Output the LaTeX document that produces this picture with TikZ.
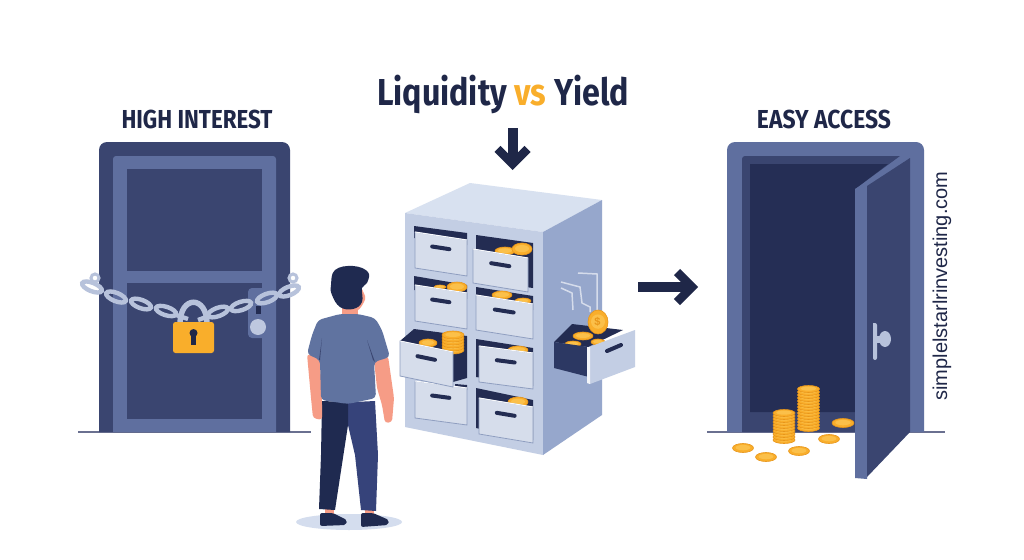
\documentclass[tikz,border=0pt]{standalone}
\usepackage{fontspec}
\setmainfont{Liberation Sans}
\newfontfamily\headfont{Fira Sans}
\usetikzlibrary{calc, arrows.meta}
\definecolor{navy}{HTML}{1F2748}
\definecolor{doordark}{HTML}{3A4570}
\definecolor{doorlight}{HTML}{5F6F9F}
\definecolor{doorhole}{HTML}{252E55}
\definecolor{steel}{HTML}{B7C2DB}
\definecolor{amber}{HTML}{F9AE2B}
\definecolor{amberdark}{HTML}{E8961A}
\definecolor{amberlight}{HTML}{FBC04A}
\definecolor{cabtop}{HTML}{D8E1F0}
\definecolor{cabfront}{HTML}{C3CEE4}
\definecolor{cabside}{HTML}{96A7CC}
\definecolor{cabface}{HTML}{D6DDEB}
\definecolor{cabedge}{HTML}{8F9EC0}
\definecolor{slotdark}{HTML}{232C52}
\definecolor{drawerin}{HTML}{2C3863}
\definecolor{skin}{HTML}{F69C86}
\definecolor{shirt}{HTML}{6073A0}
\definecolor{legdark}{HTML}{1F2A50}
\definecolor{legblue}{HTML}{36437A}
\definecolor{groundline}{HTML}{6A7090}
\tikzset{
    heading/.style={font=\headfont\bfseries\fontsize{26}{26}\selectfont, text=navy, transform shape},
    bigarrow/.style={draw=navy, line width=10pt, -{Straight Barb[length=15pt, width=30pt, line width=8.5pt]}},
    linkline/.style={draw=steel, line width=4.4pt},
}
% dark slot of a drawer, then its front with the handle
\newcommand\drawerslot[5]{\fill[slotdark] (#1,#2) -- (#3,#4) -- (#3,#4+#5) -- (#1,#2+#5) -- cycle;}
\newcommand\drawerfront[5]{
    \filldraw[fill=cabface, draw=cabedge, line width=0.8pt] (#1,#2) -- (#3,#4) -- (#3,#4+#5) -- (#1,#2+#5) -- cycle;
    \draw[white!85!cabface, line width=1pt] (#1,#2) -- (#3,#4);
    \draw[slotdark, line width=4pt, line cap=round] ($(#1,#2+#5*0.33)!0.33!(#3,#4+#5*0.33)$) -- ($(#1,#2+#5*0.33)!0.66!(#3,#4+#5*0.33)$);
}
\newcommand\coin[4]{
    \filldraw[fill=amber, draw=amberdark, line width=0.6pt] (#1,#2) ellipse [x radius=#3, y radius=#4];
    \fill[amberlight] (#1,#2-0.4) ellipse [x radius=0.7*#3, y radius=0.6*#4];
}
\newcommand\chainlink[3]{
    \draw[linkline, rotate around={#3:(#1,#2)}] (#1,#2) ellipse [x radius=10.5, y radius=4.2];
}

\begin{document}
\begin{tikzpicture}[x=1pt, y=-1pt]
    \useasboundingbox (0,0) rectangle (1024,559);
    \fill[white] (0,0) rectangle (1024,559);

    \node (title) [font=\headfont\bfseries\fontsize{37.5}{37.5}\selectfont, text=navy, xscale=0.86, transform shape] at (503,94) {Liquidity \textcolor{amber}{vs} Yield};
    \node (high) [heading, xscale=0.86] at (197,119) {HIGH INTEREST};
    \node (easy) [heading, xscale=0.88] at (824,119) {EASY ACCESS};
    \node (site) [font=\fontsize{20}{20}\selectfont, text=navy, rotate=90] at (942,286) {simplelstarlrinvesting.com};

    \coordinate (downstart) at (512.5,128);
    \coordinate (downend) at (512.5,170);
    \coordinate (rightstart) at (638,287);
    \coordinate (rightend) at (698,287);
    \draw[bigarrow] (downstart) -- (downend);
    \draw[bigarrow] (rightstart) -- (rightend);

    % locked door
    \draw[groundline, line width=1.6pt] (78,432) -- (311,432);
    \fill[doordark] (99,432) [rounded corners=8pt] -- (99,142) -- (290,142) [sharp corners] -- (290,432) -- cycle;
    \fill[doorlight] (113,432) [rounded corners=3pt] -- (113,156) -- (276,156) [sharp corners] -- (276,432) -- cycle;
    \fill[doordark] (127,169) rectangle (262,271);
    \fill[doordark] (127,283) rectangle (262,419);
    \fill[doorlight] (248,292) [rounded corners=4pt] -- (248,288) -- (273,288) -- (273,338) -- (248,338) [sharp corners] -- cycle;
    \fill[slotdark] (256,306) rectangle (261,314);
    \fill[steel!90!white] (258,327) circle (8);

    % padlock and chain
    \draw[linkline, line width=5.5pt] (180,324) .. controls (180,295) and (207,295) .. (207,324);
    \fill[amber, rounded corners=2.5pt] (173,322) rectangle (214,353);
    \fill[navy] (193.5,333) circle (4);
    \fill[navy] (191,335) rectangle (196,345);
    \chainlink{92}{287}{-22}
    \chainlink{116}{297}{-22}
    \chainlink{141}{304}{-20}
    \chainlink{166}{311}{-18}
    \chainlink{218}{312}{20}
    \chainlink{241}{306}{18}
    \chainlink{267}{298}{20}
    \chainlink{289}{291}{22}
    \draw[linkline, line width=3pt] (95,278) circle (4);
    \draw[linkline, line width=3pt] (293,278) circle (4);
    \draw[linkline] (176,315) -- (188,319);
    \draw[linkline] (198,320) -- (209,316);

    % cabinet
    \fill[cabtop] (405,213) -- (470,183) -- (602,200) -- (543,232) -- cycle;
    \fill[cabfront] (405,213) -- (543,232) -- (543,455) -- (405,427) -- cycle;
    \fill[cabside] (543,232) -- (602,200) -- (602,415) -- (543,455) -- cycle;

    \drawerslot{414}{226}{467}{233}{12}
    \drawerfront{415}{232}{467}{240}{36}

    \drawerslot{414}{276}{467}{285}{14}
    \coin{440}{287}{6}{2}
    \coin{457}{287}{10}{5}
    \drawerfront{415}{285}{467}{293}{36}

    \drawerslot{455}{384}{467}{385}{5}
    \drawerfront{415}{381}{467}{388}{37}

    \drawerslot{476}{235}{533}{243}{45}
    \coin{505}{251}{10}{4}
    \coin{522}{249}{10}{6}
    \drawerfront{473}{249}{528}{258}{34}

    \drawerslot{476}{287}{533}{296}{14}
    \coin{502}{295}{10}{4}
    \coin{523}{301}{8}{3}
    \drawerfront{476}{295}{533}{304}{35}

    \drawerslot{476}{339}{533}{348}{38}
    \coin{518}{350}{10}{4}
    \drawerfront{479}{346}{533}{353}{36}

    \drawerslot{476}{388}{533}{400}{40}
    \coin{518}{402}{10}{5}
    \drawerfront{479}{398}{533}{407}{36}

    % pulled out drawers
    \fill[slotdark] (414,329) -- (467,336) -- (467,378) -- (453,382) -- (400,341) -- cycle;
    \coin{428}{343}{9}{4}
    \foreach \yc in {350,347,344,341,338,335} {\coin{453}{\yc}{11}{4}}
    \drawerfront{400}{341}{453}{352}{35}

    \fill[slotdark] (554,342) -- (572,324) -- (623,330) -- (588,347) -- cycle;
    \coin{583}{336}{10}{4}
    \coin{573}{344}{8}{3}
    \coin{598}{342}{7}{3}
    \fill[drawerin] (554,342) -- (589,347) -- (589,377) -- (554,368) -- cycle;
    \fill[cabfront] (589,347) -- (635,330) -- (635,367) -- (590,384) -- cycle;
    \fill[white!70!cabface] (587,347) -- (590,347) -- (590,384) -- (587,383) -- cycle;
    \draw[slotdark, line width=4pt, line cap=round] (607,351) -- (621,345);

    \draw[white!60!cabside, line width=1.5pt] (578,273) -- (597,274) -- (597,310);
    \draw[white!60!cabside, line width=1.5pt] (561,282) -- (580,287) -- (582,303) -- (590,307) -- (590,312);
    \draw[white!60!cabside, line width=1.5pt] (561,288) -- (572,293) -- (573,310);
    \coin{598}{322}{10}{12}
    \node (dollar) [font=\bfseries\fontsize{11}{11}\selectfont, text=amberdark, inner sep=0pt] at (597.5,322) {\$};

    % person
    \fill[cabtop!80!cabfront] (349,522) ellipse [x radius=53, y radius=8];
    \fill[skin] (325,505) rectangle (334,515);
    \fill[skin] (365,505) rectangle (374,515);
    \fill[legdark, rounded corners=2pt] (320,513) -- (333,513) -- (347,520) -- (346,525) -- (320,526) -- cycle;
    \fill[legdark, rounded corners=2pt] (361,513) -- (373,513) -- (389,520) -- (388,525) -- (361,527) -- cycle;
    \fill[legblue] (333,403) -- (375,401) -- (378,455) -- (376,511) -- (361,510) -- (355,455) -- (348,425) -- cycle;
    \fill[legdark] (322,401) -- (348,402) -- (348,425) -- (335,510) -- (319,509) -- (321,455) -- cycle;
    \fill[skin, rounded corners=3pt] (307,354) -- (320,358) -- (322,402) -- (322,420) -- (313,418) -- (311,398) -- cycle;
    \fill[skin, rounded corners=3pt] (374,360) -- (388,356) -- (394,398) -- (392,422) -- (385,423) -- (382,405) -- (377,388) -- cycle;
    \fill[skin] (342,300) rectangle (358,316);
    \fill[shirt, rounded corners=4pt] (340,314) -- (358,314) -- (375,318) -- (382,330) -- (390,357) -- (374,362) -- (376,398) -- (348,404) -- (321,400) -- (320,360) -- (307,354) -- (312,335) -- (318,320) -- cycle;
    \fill[doordark] (322,338) -- (319,360) -- (320,360) -- cycle;
    \fill[doordark] (367,340) -- (375,362) -- (373,360) -- cycle;
    \fill[skin] plot[smooth cycle] coordinates {(358,285) (365,296) (364,302) (358,310) (350,306)};
    \fill[legdark] plot[smooth cycle, tension=0.7] coordinates {(331,285) (335,270) (353,266) (368,272) (367,283) (362,288) (362,302) (353,309) (340,307) (332,295)};

    % open door
    \draw[groundline, line width=1.6pt] (707,432) -- (945,432);
    \fill[doorlight] (727,432) [rounded corners=8pt] -- (727,142) -- (924,142) [sharp corners] -- (924,432) -- cycle;
    \fill[doordark] (742,432) [rounded corners=3pt] -- (742,156) [sharp corners] -- (900,156) -- (855,189) -- (855,432) -- cycle;
    \fill[doorhole] (750,164) -- (888,164) -- (855,189) -- (855,412) -- (750,412) -- cycle;
    \fill[doorlight] (855,189) -- (910,157) -- (910,200) -- (867,477) -- (867,479) -- (855,478) -- cycle;
    \fill[doordark] (867,186) -- (910,158) -- (910,432) -- (867,477) -- cycle;
    \fill[steel] (873,323) [rounded corners=2pt] -- (877,323) -- (877,360) -- (873,360) [sharp corners] -- cycle;
    \fill[steel] (876,336) rectangle (884,343);
    \fill[steel] (885,339) ellipse [x radius=6, y radius=8];

    % coins on the floor
    \foreach \yc in {440,437,434,431,428,425,422,419,416,413} {\coin{784}{\yc}{11}{3.5}}
    \foreach \yc in {428,425,422,419,416,413,410,407,404,401,398,395,392,389} {\coin{808.5}{\yc}{11}{3.5}}
    \coin{743}{448}{10.5}{4.5}
    \coin{766}{457}{10.5}{4.5}
    \coin{799}{451}{10.5}{4.5}
    \coin{829}{439}{10.5}{4.5}
    \coin{843}{423}{11}{4.5}
\end{tikzpicture}
\end{document}
